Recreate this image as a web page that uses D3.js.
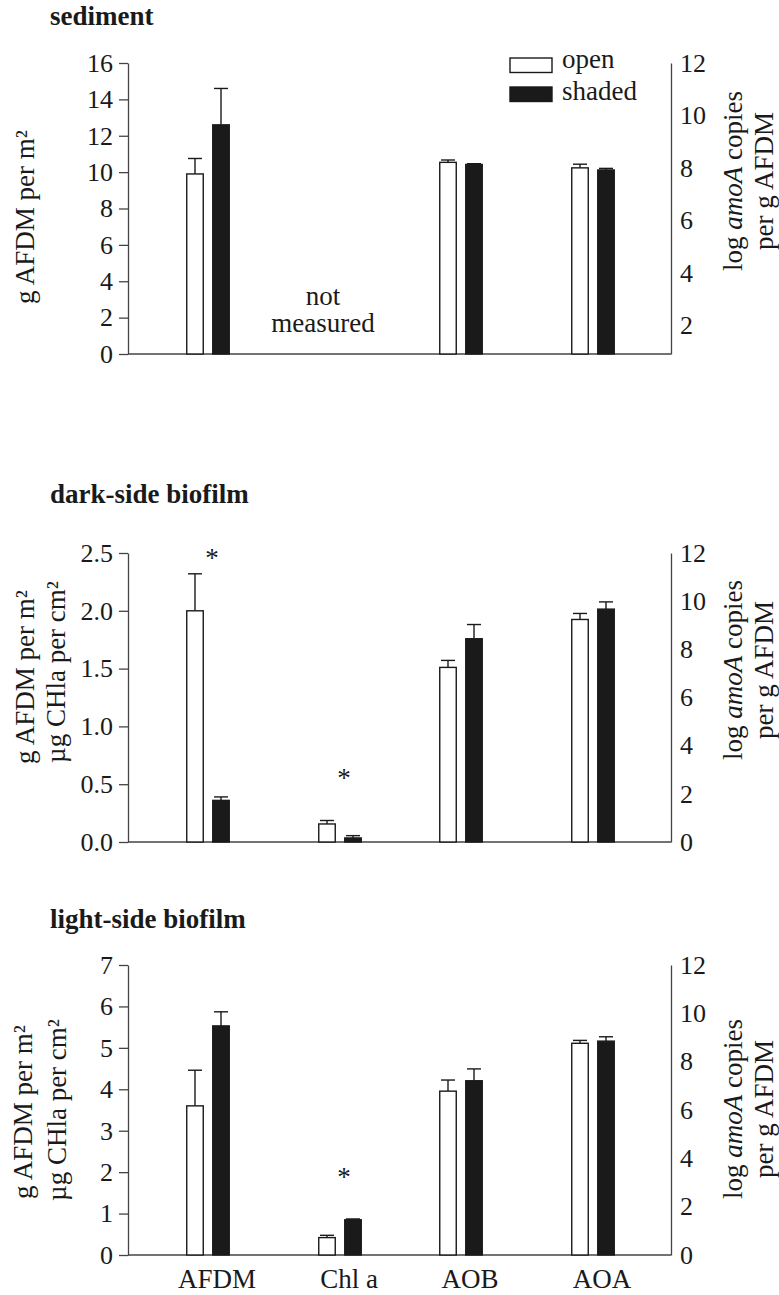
<!DOCTYPE html>
<html>
<head>
<meta charset="utf-8">
<script src="https://cdn.jsdelivr.net/npm/d3@7"></script>
<style>
  body { margin: 0; background: #fff; }
</style>
</head>
<body>
<svg id="chart" width="779" height="1295"></svg>
<script>
// categories (left axis: AFDM, Chl a; right axis: AOB, AOA)
const categories = ["AFDM", "Chl a", "AOB", "AOA"];
const leftCats = ["AFDM", "Chl a"];
const rightCats = ["AOB", "AOA"];
const panelTitles = ["sediment", "dark-side biofilm", "light-side biofilm"];
const seriesNames = ["open", "shaded"];

// sediment (Chl a not measured)
const sedOpen = [9.9, null, 8.21, 8.0];
const sedOpenSE = [0.85, null, 0.09, 0.14];
const sedShaded = [12.6, null, 8.13, 7.92];
const sedShadedSE = [2.0, null, 0.03, 0.06];

// dark-side biofilm
const darkOpen = [2.0, 0.156, 7.25, 9.24];
const darkOpenSE = [0.32, 0.03, 0.29, 0.25];
const darkShaded = [0.36, 0.035, 8.44, 9.67];
const darkShadedSE = [0.03, 0.02, 0.59, 0.30];

// light-side biofilm
const lightOpen = [3.60, 0.42, 6.78, 8.76];
const lightOpenSE = [0.86, 0.055, 0.46, 0.12];
const lightShaded = [5.53, 0.85, 7.21, 8.85];
const lightShadedSE = [0.34, 0.02, 0.49, 0.18];

// axis ticks
const sedLeftTicks = [0, 2, 4, 6, 8, 10, 12, 14, 16];
const sedRightTicks = [2, 4, 6, 8, 10, 12];
const darkLeftTicks = [0, 0.5, 1.0, 1.5, 2.0, 2.5];
const lightLeftTicks = [0, 1, 2, 3, 4, 5, 6, 7];
const amoaTicks = [0, 2, 4, 6, 8, 10, 12];

// significance stars (category, height on left axis)
const darkStars = [{ c: "AFDM", v: 2.5 }, { c: "Chl a", v: 0.59 }];
const lightStars = [{ c: "Chl a", v: 1.98 }];

const FONT = "Liberation Serif";
const svg = d3.select("#chart");
const axisX0 = 128, axisX1 = 671;
const barW = 16.5, barOff = 13;
const ink = "#1a1a1a";

const xLeft = d3.scalePoint().domain(leftCats).range([208, 340]);
const xRight = d3.scalePoint().domain(rightCats).range([461, 593]);
const xPos = c => leftCats.includes(c) ? xLeft(c) : xRight(c);

const panels = [
  { title: panelTitles[0], titleY: 25, top: 63, bottom: 354,
    leftDomain: [0, 16], leftTicks: sedLeftTicks, leftFmt: d3.format("d"),
    rightDomain: [0.9, 12], rightTicks: sedRightTicks,
    open: sedOpen, openSE: sedOpenSE, shaded: sedShaded, shadedSE: sedShadedSE,
    leftLabels: [{ x: 25, y: 217, t: "g AFDM per m²" }],
    rightLabelY: 181, stars: [], notMeasured: true, legend: true },
  { title: panelTitles[1], titleY: 503, top: 553, bottom: 842,
    leftDomain: [0, 2.5], leftTicks: darkLeftTicks, leftFmt: d3.format(".1f"),
    rightDomain: [0, 12], rightTicks: amoaTicks,
    open: darkOpen, openSE: darkOpenSE, shaded: darkShaded, shadedSE: darkShadedSE,
    leftLabels: [{ x: 25, y: 677, t: "g AFDM per m²" }, { x: 56, y: 672, t: "µg CHla per cm²" }],
    rightLabelY: 670, stars: darkStars },
  { title: panelTitles[2], titleY: 928, top: 965, bottom: 1255,
    leftDomain: [0, 7], leftTicks: lightLeftTicks, leftFmt: d3.format("d"),
    rightDomain: [0, 12], rightTicks: amoaTicks,
    open: lightOpen, openSE: lightOpenSE, shaded: lightShaded, shadedSE: lightShadedSE,
    leftLabels: [{ x: 23, y: 1112, t: "g AFDM per m²" }, { x: 57, y: 1110, t: "µg CHla per cm²" }],
    rightLabelY: 1109, stars: lightStars, xLabels: true }
];

function styleAxis(sel) {
  sel.attr("font-size", 26).attr("color", "#444");
  sel.select(".domain").attr("stroke-width", 1.3);
  sel.selectAll(".tick line").attr("stroke-width", 1.3);
  sel.selectAll(".tick text").attr("fill", ink);
}

function vlabel(g, x, y) {
  return g.append("text")
    .attr("transform", `translate(${x},${y}) rotate(-90)`)
    .attr("text-anchor", "middle")
    .attr("dy", "0.35em")
    .attr("font-size", 27)
    .attr("fill", ink);
}

panels.forEach(p => {
  const g = svg.append("g");
  const yL = d3.scaleLinear().domain(p.leftDomain).range([p.bottom, p.top]);
  const yR = d3.scaleLinear().domain(p.rightDomain).range([p.bottom, p.top]);
  const yFor = c => leftCats.includes(c) ? yL : yR;

  g.append("text").attr("x", 50).attr("y", p.titleY).attr("fill", ink)
    .attr("font-size", 27).attr("font-weight", "bold").text(p.title);

  g.append("g").attr("transform", `translate(${axisX0},0)`)
    .call(d3.axisLeft(yL).tickValues(p.leftTicks).tickFormat(p.leftFmt)
      .tickSize(9).tickSizeOuter(0).tickPadding(6))
    .call(styleAxis);

  g.append("g").attr("transform", `translate(${axisX1},0)`)
    .call(d3.axisRight(yR).tickValues(p.rightTicks).tickFormat(d3.format("d"))
      .tickSize(0).tickPadding(9))
    .call(styleAxis);

  g.append("line")
    .attr("x1", axisX0).attr("x2", axisX1)
    .attr("y1", p.bottom).attr("y2", p.bottom)
    .attr("stroke", "#444").attr("stroke-width", 1.4);

  const bars = [];
  categories.forEach((c, i) => {
    if (p.open[i] != null) bars.push({ c, s: "open", v: p.open[i], se: p.openSE[i] });
    if (p.shaded[i] != null) bars.push({ c, s: "shaded", v: p.shaded[i], se: p.shadedSE[i] });
  });
  const cx = d => xPos(d.c) + (d.s === "open" ? -barOff : barOff);

  // error bars (drawn first, bar covers the base)
  const eb = g.append("g").attr("stroke", ink).attr("stroke-width", 1.4);
  eb.selectAll("line.v").data(bars).join("line").attr("class", "v")
    .attr("x1", cx).attr("x2", cx)
    .attr("y1", d => yFor(d.c)(d.v)).attr("y2", d => yFor(d.c)(d.v + d.se));
  eb.selectAll("line.cap").data(bars).join("line").attr("class", "cap")
    .attr("x1", d => cx(d) - 7).attr("x2", d => cx(d) + 7)
    .attr("y1", d => yFor(d.c)(d.v + d.se)).attr("y2", d => yFor(d.c)(d.v + d.se));

  g.selectAll("rect.bar").data(bars).join("rect").attr("class", "bar")
    .attr("x", d => cx(d) - barW / 2)
    .attr("width", barW)
    .attr("y", d => yFor(d.c)(d.v))
    .attr("height", d => p.bottom - yFor(d.c)(d.v))
    .attr("fill", d => d.s === "open" ? "#fff" : ink)
    .attr("stroke", ink).attr("stroke-width", 1.4);

  g.selectAll("text.star").data(p.stars).join("text").attr("class", "star")
    .attr("x", d => xPos(d.c) + 4).attr("y", d => yL(d.v))
    .attr("dy", "0.5em").attr("text-anchor", "middle").attr("font-size", 27)
    .attr("fill", ink).text("*");

  p.leftLabels.forEach(l => vlabel(g, l.x, l.y).text(l.t));
  const rl = vlabel(g, 733, p.rightLabelY);
  rl.append("tspan").text("log ");
  rl.append("tspan").attr("font-style", "italic").text("amoA");
  rl.append("tspan").text(" copies");
  vlabel(g, 764, p.rightLabelY).text("per g AFDM");

  if (p.notMeasured) {
    const nx = xLeft("Chl a") - 17;
    g.append("text").attr("x", nx).attr("y", 305).attr("text-anchor", "middle")
      .attr("font-size", 27).attr("fill", ink).text("not");
    g.append("text").attr("x", nx).attr("y", 332).attr("text-anchor", "middle")
      .attr("font-size", 27).attr("fill", ink).text("measured");
  }

  if (p.legend) {
    const lg = g.append("g").attr("transform", "translate(510,58)");
    seriesNames.forEach((s, i) => {
      lg.append("rect").attr("x", 0).attr("y", i * 29).attr("width", 42).attr("height", 14.5)
        .attr("fill", s === "open" ? "#fff" : ink).attr("stroke", ink).attr("stroke-width", 1.4);
      lg.append("text").attr("x", 52).attr("y", i * 32 + 10).attr("font-size", 27)
        .attr("fill", ink).text(s);
    });
  }

  if (p.xLabels) {
    g.selectAll("text.xl").data(categories).join("text").attr("class", "xl")
      .attr("x", c => xPos(c) + 9).attr("y", 1288)
      .attr("text-anchor", "middle").attr("font-size", 27).attr("fill", ink).text(c => c);
  }
});

// set the serif face on every text element directly
svg.selectAll("text, tspan").attr("font-family", FONT);
</script>
</body>
</html>
